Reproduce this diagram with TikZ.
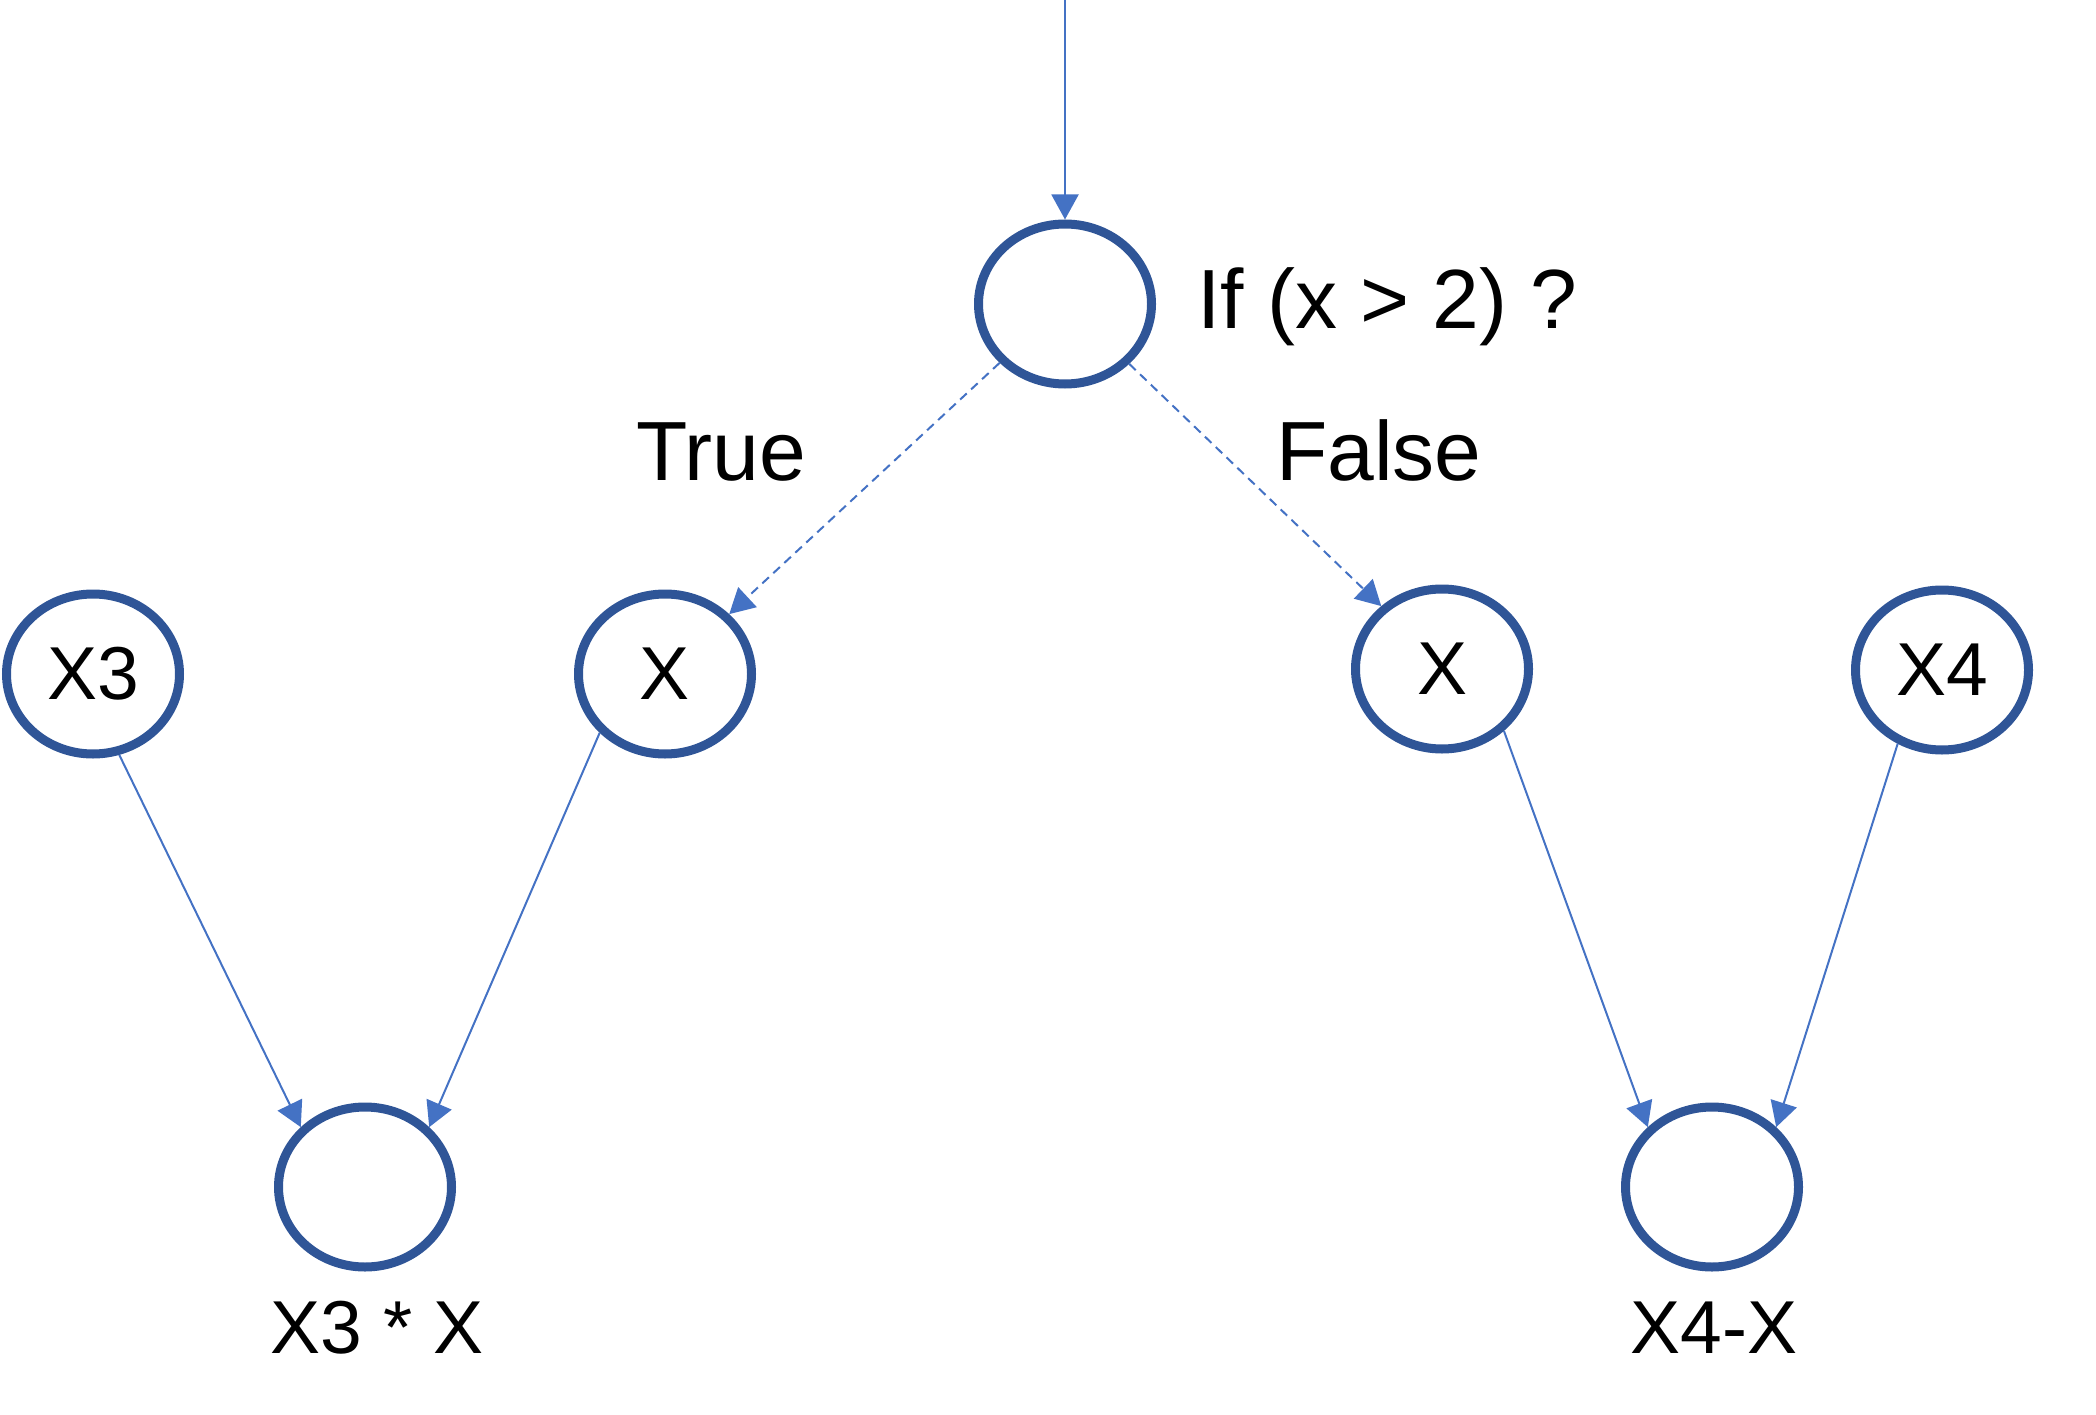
\documentclass[tikz,border=0pt]{standalone}
\usepackage{fontspec}
\setmainfont{Liberation Sans}
\usetikzlibrary{arrows.meta,shapes.geometric}
\definecolor{ringblue}{HTML}{2F5597}
\definecolor{arrowblue}{HTML}{4472C4}
\begin{document}
\begin{tikzpicture}[x=1pt,y=-1pt,
  ring/.style={ellipse,draw=ringblue,line width=9pt,minimum width=173pt,minimum height=160pt,inner sep=0pt,
    font=\fontsize{75}{90}\selectfont},
  lbl/.style={inner sep=0pt,font=\fontsize{84}{100}\selectfont},
  slbl/.style={inner sep=0pt,font=\fontsize{75}{90}\selectfont},
  conn/.style={draw=arrowblue,line width=2pt,-{Triangle[length=25pt,width=27pt]},arrowblue},
  dconn/.style={conn,dash pattern=on 9pt off 6pt}]
\useasboundingbox (0,0) rectangle (2096,1415);
\node[ring] (top) at (1065,304) {};
\node[ring] (x3) at (93,674) {X3};
\node[ring] (xl) at (665,674) {X};
\node[ring] (xr) at (1442,669) {X};
\node[ring] (x4) at (1942,670) {X4};
\node[ring] (bl) at (365,1187) {};
\node[ring] (br) at (1712,1187) {};
\coordinate (src) at (1065,0);
\node[lbl,anchor=base west] (cond) at (1197,328) {If (x > 2) ?};
\node[lbl,anchor=base west] (tl) at (636,480) {True};
\node[lbl,anchor=base west] (fl) at (1276,480) {False};
\node[slbl,anchor=base] (bll) at (377,1353) {X3 * X};
\node[slbl,anchor=base] (brl) at (1714,1353) {X4-X};
\draw[conn] (src) -- (top.north);
\draw[dconn] (top.222) -- (xl.43);
\draw[dconn] (top.-43) -- (xr.134);
\draw[conn] (x3.-72) -- (bl.137);
\draw[conn] (xl.222) -- (bl.43);
\draw[conn] (xr.-45) -- (br.137);
\draw[conn] (x4.239) -- (br.43);
\end{tikzpicture}
\end{document}
